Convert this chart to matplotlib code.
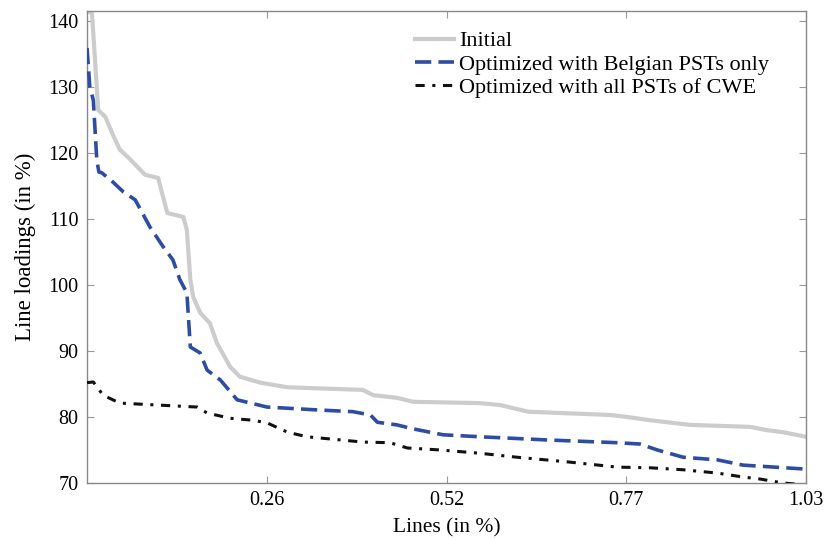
import matplotlib
matplotlib.use("Agg")
import matplotlib.pyplot as plt
import numpy as np

# Initial
x_init = [0, 0.007, 0.011, 0.016, 0.026, 0.036, 0.047, 0.062, 0.083, 0.102, 0.107, 0.115,
          0.138, 0.143, 0.148, 0.152, 0.162, 0.176, 0.186, 0.205, 0.219, 0.248, 0.287,
          0.395, 0.410, 0.444, 0.467, 0.563, 0.592, 0.632, 0.678, 0.749, 0.774, 0.807,
          0.831, 0.864, 0.950, 0.974, 0.997, 1.03]
y_init = [141.5, 141.2, 134.8, 126.5, 125.5, 123.0, 120.5, 119.0, 116.7, 116.2, 114.1, 110.9,
          110.3, 108.3, 100.8, 98.2, 95.8, 94.2, 91.2, 87.6, 86.1, 85.2, 84.5,
          84.1, 83.3, 82.9, 82.3, 82.1, 81.8, 80.8, 80.6, 80.3, 80.0, 79.5,
          79.2, 78.8, 78.5, 78.0, 77.7, 77.0]

# Optimized with Belgian PSTs only
x_bel = [0, 0.004, 0.009, 0.014, 0.017, 0.021, 0.037, 0.052, 0.069, 0.090, 0.109, 0.123,
         0.133, 0.143, 0.148, 0.162, 0.172, 0.191, 0.215, 0.258, 0.324, 0.381, 0.406,
         0.416, 0.444, 0.467, 0.510, 0.563, 0.663, 0.760, 0.792, 0.817, 0.854, 0.903,
         0.940, 1.03]
y_bel = [135.9, 130.0, 128.0, 118.9, 117.1, 117.0, 115.6, 114.1, 112.9, 108.8, 105.8, 103.8,
         100.8, 98.8, 90.6, 89.7, 87.1, 85.6, 82.6, 81.5, 81.1, 80.8, 80.3,
         79.2, 78.8, 78.2, 77.3, 77.0, 76.5, 76.1, 75.9, 75.0, 73.9, 73.5,
         72.7, 72.1]

# Optimized with all PSTs of CWE
x_cwe = [0, 0.009, 0.023, 0.047, 0.158, 0.172, 0.205, 0.238, 0.258, 0.287, 0.315, 0.395,
         0.434, 0.459, 0.506, 0.563, 0.616, 0.688, 0.760, 0.807, 0.854, 0.903, 0.940,
         0.964, 0.997, 1.03]
y_cwe = [85.2, 85.3, 83.3, 82.1, 81.5, 80.6, 79.8, 79.5, 79.1, 77.7, 77.0, 76.2,
         76.1, 75.3, 75.0, 74.5, 73.9, 73.2, 72.4, 72.3, 72.0, 71.5, 70.9,
         70.6, 70.0, 69.7]

xticks = [1.03 / 4, 1.03 / 2, 1.03 * 3 / 4, 1.03]
xticklabels = ["0.26", "0.52", "0.77", "1.03"]
yticks = [70, 80, 90, 100, 110, 120, 130, 140]

plt.rcParams['font.family'] = ['Liberation Serif', 'DejaVu Serif']

fig = plt.figure(figsize=(8.25, 5.4), dpi=100)
ax = fig.add_axes([0.1055, 0.1056, 0.8715, 0.874])

ax.plot(x_init, y_init, color='#cccccc', lw=3.0, label='Initial', zorder=2)
ax.plot(x_bel, y_bel, color='#2e4ca3', lw=2.6, ls=(0, (4.5, 2)), label='Optimized with Belgian PSTs only', zorder=3)
ax.plot(x_cwe, y_cwe, color='#111111', lw=2.2, ls=(0, (3, 2.5, 1, 2.5)), label='Optimized with all PSTs of CWE', zorder=4)

ax.set_xlim(0, 1.03)
ax.set_ylim(70, 141.5)
ax.set_xticks(xticks)
ax.set_xticklabels(xticklabels)
ax.set_yticks(yticks)
ax.tick_params(direction='in', length=5, color='#999999', labelsize=14.5, top=True, right=True, pad=6)
for s in ax.spines.values():
    s.set_color('#888888')
    s.set_linewidth(1.0)

ax.set_xlabel('Lines (in %)', fontsize=15.5, labelpad=6)
ax.set_ylabel('Line loadings (in %)', fontsize=16.5, labelpad=9)

leg = ax.legend(loc='upper left', frameon=False, fontsize=16, handlelength=1.75,
                labelspacing=0.12, handletextpad=0.25, borderaxespad=0, borderpad=0,
                bbox_to_anchor=(0.456, 0.958))

fig.savefig('out.png', dpi=100)
